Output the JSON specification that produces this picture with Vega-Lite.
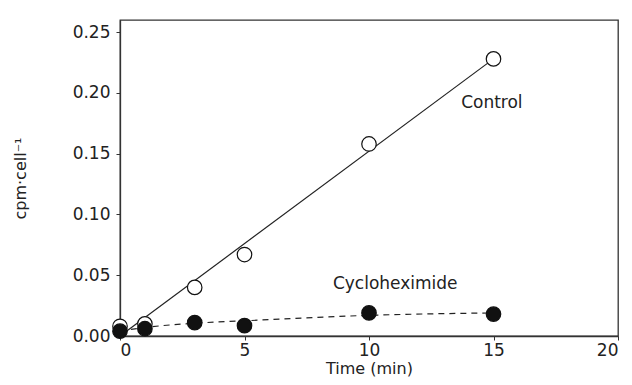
{
  "$schema": "https://vega.github.io/schema/vega-lite/v6.json",
  "width": 498,
  "height": 316,
  "autosize": {"type": "none"},
  "padding": {"left": 120, "top": 20, "right": 14, "bottom": 49},
  "background": "white",
  "config": {
    "view": {"stroke": "#333", "strokeWidth": 1.3},
    "font": "DejaVu Sans",
    "axis": {
      "domainColor": "#333",
      "tickColor": "#333",
      "labelColor": "#222",
      "titleColor": "#222",
      "labelFont": "DejaVu Sans",
      "titleFont": "DejaVu Sans",
      "labelFontSize": 17,
      "titleFontSize": 16,
      "titleFontWeight": "normal",
      "grid": false,
      "tickSize": 4,
      "domainWidth": 1.3
    }
  },
  "datasets": {
    "pts": [
      {"t": 0, "v": 0.008, "g": "Control"},
      {"t": 1, "v": 0.010, "g": "Control"},
      {"t": 3, "v": 0.040, "g": "Control"},
      {"t": 5, "v": 0.067, "g": "Control"},
      {"t": 10, "v": 0.158, "g": "Control"},
      {"t": 15, "v": 0.228, "g": "Control"},
      {"t": 0, "v": 0.004, "g": "Cycloheximide"},
      {"t": 1, "v": 0.006, "g": "Cycloheximide"},
      {"t": 3, "v": 0.011, "g": "Cycloheximide"},
      {"t": 5, "v": 0.0085, "g": "Cycloheximide"},
      {"t": 10, "v": 0.019, "g": "Cycloheximide"},
      {"t": 15, "v": 0.018, "g": "Cycloheximide"}
    ],
    "fitc": [
      {"t": 0, "v": 0.0},
      {"t": 15, "v": 0.228}
    ],
    "fitx": [
      {"t": 0, "v": 0.004},
      {"t": 1, "v": 0.007},
      {"t": 3, "v": 0.0105},
      {"t": 5, "v": 0.0125},
      {"t": 10, "v": 0.017},
      {"t": 15, "v": 0.019}
    ],
    "labels": [
      {"t": 13.7, "v": 0.1915, "txt": "Control"},
      {"t": 8.55, "v": 0.0425, "txt": "Cycloheximide"}
    ]
  },
  "layer": [
    {
      "data": {"name": "fitc"},
      "mark": {"type": "line", "color": "#222", "strokeWidth": 1.2},
      "encoding": {
        "x": {"field": "t", "type": "quantitative", "scale": {"domain": [0, 20]},
              "axis": {"values": [0, 5, 10, 15, 20], "title": "Time (min)", "titlePadding": 2, "labelPadding": 2}},
        "y": {"field": "v", "type": "quantitative", "scale": {"domain": [0, 0.25]},
              "axis": {"values": [0, 0.05, 0.1, 0.15, 0.2, 0.25], "format": ".2f", "title": "cpm·cell⁻¹", "titlePadding": 44, "labelPadding": 6}}
      }
    },
    {
      "data": {"name": "fitx"},
      "mark": {"type": "line", "color": "#222", "strokeWidth": 1.2, "strokeDash": [6, 5], "interpolate": "monotone"},
      "encoding": {
        "x": {"field": "t", "type": "quantitative"},
        "y": {"field": "v", "type": "quantitative"}
      }
    },
    {
      "data": {"name": "pts"},
      "mark": {"type": "point", "shape": "circle", "size": 210, "strokeWidth": 1.2, "opacity": 1},
      "encoding": {
        "x": {"field": "t", "type": "quantitative"},
        "y": {"field": "v", "type": "quantitative"},
        "stroke": {"value": "#111"},
        "fill": {"field": "g", "type": "nominal", "scale": {"domain": ["Control", "Cycloheximide"], "range": ["white", "#111"]}, "legend": null},
        "fillOpacity": {"value": 1}
      }
    },
    {
      "data": {"name": "labels"},
      "mark": {"type": "text", "align": "left", "baseline": "middle", "fontSize": 17, "color": "#222"},
      "encoding": {
        "x": {"field": "t", "type": "quantitative"},
        "y": {"field": "v", "type": "quantitative"},
        "text": {"field": "txt"}
      }
    }
  ]
}
